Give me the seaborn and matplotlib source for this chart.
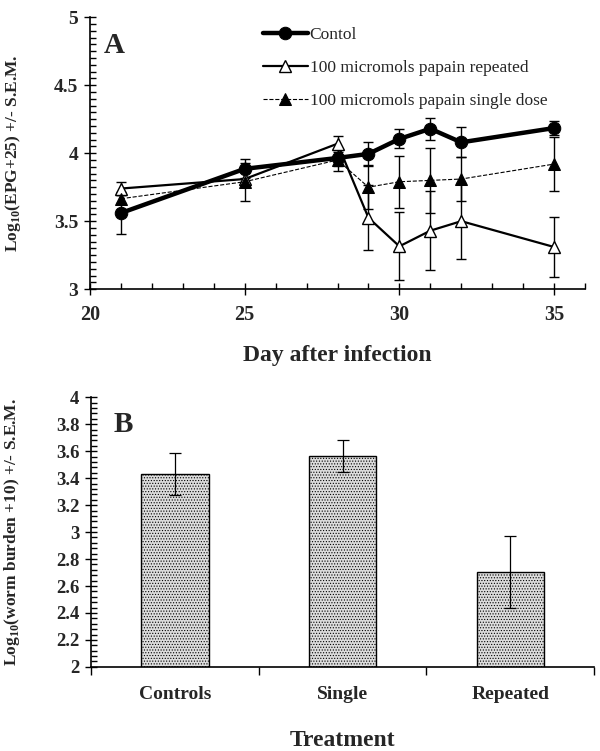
import numpy as np
import pandas as pd
import matplotlib
matplotlib.use("Agg")
import matplotlib.pyplot as plt
import seaborn as sns
from matplotlib.ticker import MultipleLocator, FixedLocator

# ---------------- data ----------------
days = [21, 25, 28, 29, 30, 31, 32, 35]
control = [3.56, 3.885, 3.965, 3.995, 4.105, 4.18, 4.08, 4.185]
control_sem = [0.155, 0.07, 0.06, 0.09, 0.07, 0.08, 0.11, 0.05]
repeated = [3.74, 3.81, 4.07, 3.525, 3.315, 3.43, 3.50, 3.31]
repeated_sem = [0.05, 0.05, 0.06, 0.24, 0.25, 0.29, 0.28, 0.22]
single = [3.665, 3.79, 3.95, 3.75, 3.79, 3.80, 3.81, 3.92]
single_sem = [0.03, 0.14, 0.08, 0.16, 0.19, 0.24, 0.16, 0.20]

treatments = ["Controls", "Single", "Repeated"]
burden = [3.43, 3.565, 2.705]
burden_sem = [0.155, 0.12, 0.265]

label_control = "Contol"
label_repeated = "100 micromols papain repeated"
label_single = "100 micromols papain single dose"

# ---------------- style ----------------
sns.set_theme(style="ticks")
plt.rcParams["font.family"] = ["Liberation Serif", "DejaVu Serif"]
plt.rcParams["mathtext.fontset"] = "custom"
plt.rcParams["mathtext.rm"] = "Liberation Serif"
plt.rcParams["mathtext.bf"] = "Liberation Serif:bold"
plt.rcParams["hatch.color"] = "#222222"
plt.rcParams["hatch.linewidth"] = 0.5

fig = plt.figure(figsize=(6, 7.51), dpi=100)
axA = fig.add_axes([0.15, 0.615, 0.825, 0.362])
axB = fig.add_axes([0.152, 0.112, 0.838, 0.359])

dfA = pd.DataFrame({"day": days, "control": control, "repeated": repeated, "single": single})

# error bars first (under the markers)
for vals, sems in [(control, control_sem), (repeated, repeated_sem), (single, single_sem)]:
    axA.errorbar(days, vals, yerr=sems, fmt="none", ecolor="black",
                 elinewidth=1.0, capsize=3.5, capthick=1.0, zorder=1)

sns.lineplot(data=dfA, x="day", y="control", ax=axA, color="black", lw=3.2,
             marker="o", markersize=9, markerfacecolor="black",
             markeredgecolor="black", label=label_control, zorder=4)
sns.lineplot(data=dfA, x="day", y="repeated", ax=axA, color="black", lw=1.6,
             marker="^", markersize=9, markerfacecolor="white",
             markeredgecolor="black", markeredgewidth=1.0,
             label=label_repeated, zorder=3)
sns.lineplot(data=dfA, x="day", y="single", ax=axA, color="black", lw=0.8,
             linestyle="--", dashes=(3, 2), marker="^", markersize=9,
             markerfacecolor="black", markeredgecolor="black",
             label=label_single, zorder=3)

axA.set_xlim(20, 36)
axA.set_ylim(3, 5)
axA.xaxis.set_major_locator(FixedLocator([20, 25, 30, 35]))
axA.xaxis.set_minor_locator(MultipleLocator(1))
axA.yaxis.set_minor_locator(MultipleLocator(0.05))
axA.set_yticks([3, 3.5, 4, 4.5, 5])
axA.set_yticklabels(["3", "3.5", "4", "4.5", "5"])
axA.tick_params(axis="both", which="major", direction="inout", length=9,
                width=1.0, color="black", labelsize=14, pad=4)
axA.tick_params(axis="x", which="major", pad=7, labelsize=14.5)
axA.tick_params(axis="both", which="minor", direction="in", length=4,
                width=1.0, color="black")
for lab in axA.get_xticklabels() + axA.get_yticklabels():
    lab.set_fontweight("bold")
sns.despine(ax=axA)
for s in ["left", "bottom"]:
    axA.spines[s].set_color("black")
    axA.spines[s].set_linewidth(1.2)

axA.set_xlabel("Day after infection", fontsize=17, fontweight="bold", labelpad=14)
axA.set_ylabel(r"Log$_{\mathbf{10}}$(EPG+25) +/- S.E.M.", fontsize=12.5,
               fontweight="bold")
axA.yaxis.set_label_coords(-0.135, 0.5)
axA.text(0.028, 0.895, "A", transform=axA.transAxes, fontsize=21,
         fontweight="bold", ha="left", va="center")

leg = axA.legend(loc="upper left", bbox_to_anchor=(0.335, 0.99), frameon=False,
                 fontsize=12.5, handlelength=2.6, handletextpad=0.1,
                 labelspacing=0.98, borderaxespad=0)

# ---------------- panel B ----------------
dfB = pd.DataFrame({"treatment": treatments, "burden": burden})
sns.barplot(data=dfB, x="treatment", y="burden", ax=axB, color="#d8d8d8",
            width=0.4, edgecolor="black", linewidth=1.0, errorbar=None,
            saturation=1)
for p in axB.patches:
    p.set_hatch("......")
    p.set_facecolor("#dcdcdc")
axB.errorbar(range(len(treatments)), burden, yerr=burden_sem, fmt="none",
             ecolor="black", elinewidth=0.9, capsize=4, capthick=0.9, zorder=5)

axB.set_xlim(-0.5, 2.5)
axB.set_ylim(2, 4)
axB.yaxis.set_minor_locator(MultipleLocator(0.04))
axB.set_yticks(np.round(np.arange(2, 4.01, 0.2), 1))
axB.set_yticklabels(["2", "2.2", "2.4", "2.6", "2.8", "3", "3.2", "3.4",
                     "3.6", "3.8", "4"])
axB.xaxis.set_minor_locator(FixedLocator([-0.5, 0.5, 1.5, 2.5]))
axB.tick_params(axis="x", which="major", length=0, labelsize=14, pad=14)
axB.tick_params(axis="x", which="minor", direction="out", length=6,
                width=1.0, color="black")
axB.tick_params(axis="y", which="major", direction="inout", length=9,
                width=1.0, color="black", labelsize=13.5, pad=4)
axB.tick_params(axis="y", which="minor", direction="in", length=4,
                width=1.0, color="black")
for lab in axB.get_xticklabels() + axB.get_yticklabels():
    lab.set_fontweight("bold")
sns.despine(ax=axB)
for s in ["left", "bottom"]:
    axB.spines[s].set_color("black")
    axB.spines[s].set_linewidth(1.2)

axB.set_xlabel("Treatment", fontsize=17, fontweight="bold", labelpad=19)
axB.set_ylabel(r"Log$_{\mathbf{10}}$(worm burden +10) +/- S.E.M.",
               fontsize=12.5, fontweight="bold")
axB.yaxis.set_label_coords(-0.137, 0.5)
axB.text(0.045, 0.9, "B", transform=axB.transAxes, fontsize=21,
         fontweight="bold", ha="left", va="center")

fig.savefig("out.png", dpi=100)
